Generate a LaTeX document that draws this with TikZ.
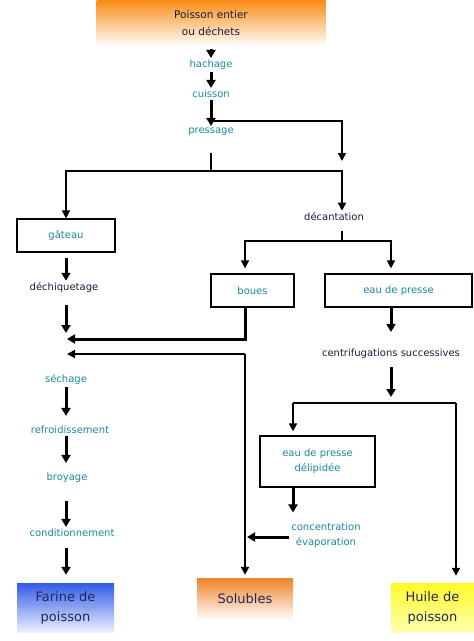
\documentclass[tikz,border=0pt]{standalone}
\usepackage{fontspec}
\setmainfont{DejaVu Sans}
\usepackage{tikz}
\usetikzlibrary{arrows.meta}
\usetikzlibrary{positioning}
\definecolor{stagecol}{RGB}{25,135,160}
\definecolor{inkcol}{RGB}{20,30,60}
\definecolor{endink}{RGB}{30,40,90}
\tikzset{stage/.style = {text = stagecol, font = \fontsize{10}{15}\selectfont, inner sep = 2pt}}
\tikzset{procbox/.style = {stage, draw = black, line width = 1.2pt, align = center}}
\tikzset{endbox/.style = {text = endink, font = \fontsize{13}{20}\selectfont, align = center, inner sep = 0}}
\tikzset{link/.style = {line width = 1.6pt}}
\tikzset{linkarrow/.style = {link, -{Triangle[length = 8pt, width = 8pt]}}}
\tikzset{flow/.style = {line width = 3pt, -{Triangle[length = 8pt, width = 9pt]}}}

\begin{document}
\begin{tikzpicture}[x = 1pt, y = -1pt]
    \useasboundingbox (0, 0) rectangle (474, 641);

    \node [endbox, text = inkcol, font = \fontsize{10.5}{17}\selectfont, minimum width = 229pt, minimum height = 46pt,
      top color = {rgb,255:red,250;green,140;blue,20}, middle color = {rgb,255:red,252;green,165;blue,75}, bottom color = white]
      (src) at (211, 23) {Poisson entier\\ou déchets};
    \node [stage] (hach) at (211, 65) {hachage};
    \node [stage] (cuis) at (211, 94) {cuisson};
    \node [stage] (press) at (211, 132) {pressage};
    \node [stage, text = inkcol] (decant) at (334, 217) {décantation};
    \node [procbox, minimum width = 98pt, minimum height = 33pt] (gateau) at (66, 235.5) {gâteau};
    \node [stage, text = inkcol] (dechiq) at (64, 288) {déchiquetage};
    \node [procbox, minimum width = 83pt, minimum height = 33pt] (boues) at (252.5, 290.5) {boues};
    \node [procbox, minimum width = 147pt, minimum height = 33pt] (eaup) at (398.5, 290.5) {eau de presse};
    \node [stage, text = inkcol] (centrif) at (391, 354) {centrifugations successives};
    \node [procbox, minimum width = 115pt, minimum height = 51pt] (delip) at (317.5, 461.5) {eau de presse\\délipidée};
    \node [stage, align = center] (concent) at (326, 535) {concentration\\évaporation};
    \node [stage] (sech) at (66, 380) {séchage};
    \node [stage] (refroid) at (70, 430) {refroidissement};
    \node [stage] (broy) at (67, 478) {broyage};
    \node [stage] (condit) at (72, 533) {conditionnement};
    \node [endbox, minimum width = 97pt, minimum height = 49pt,
      top color = {rgb,255:red,50;green,90;blue,230}, bottom color = {rgb,255:red,235;green,240;blue,255}]
      (farine) at (65.5, 607.5) {Farine de\\poisson};
    \node [endbox, minimum width = 96pt, minimum height = 42pt,
      top color = {rgb,255:red,240;green,130;blue,40}, bottom color = white]
      (solub) at (245, 599) {Solubles};
    \node [endbox, minimum width = 83pt, minimum height = 49pt,
      top color = {rgb,255:red,255;green,250;blue,40}, bottom color = {rgb,255:red,255;green,255;blue,175}]
      (huile) at (432.5, 607.5) {Huile de\\poisson};

    \coordinate (col) at (66, 0);
    \coordinate (jp) at (211, 121);
    \coordinate (jpend) at (342, 161);
    \coordinate (jd) at (211, 171);
    \coordinate (jdc) at (342, 241);
    \coordinate (js) at (245, 354);
    \coordinate (jc) at (391, 403);
    \coordinate (jl) at (293, 403);
    \coordinate (jr) at (456, 403);
    \coordinate (m0) at (66, 333);
    \coordinate (m1) at (67, 339);
    \coordinate (m2) at (67, 354);
    \coordinate (ev) at (247, 537);

    \draw [flow, shorten <= 3pt] (src) -- (hach);
    \draw [flow] (hach) -- (cuis);
    \draw [flow] (cuis) -- (press);
    \draw [linkarrow] (jp) -| (jpend);
    \draw [link, shorten <= 15pt] (press) -- (jd);
    \draw [linkarrow] (jd) -| (gateau);
    \draw [linkarrow] (jd) -| (jdc |- decant.north);
    \draw [link, shorten <= 8pt] (jdc |- decant.south) -- (jdc);
    \draw [linkarrow, shorten >= 5pt] (jdc) -| (js |- boues.north);
    \draw [linkarrow, shorten >= 5pt] (jdc) -| (jc |- eaup.north);

    \draw [flow, shorten <= 5pt] (gateau.south) -- (gateau.south |- dechiq.north);
    \draw [flow, shorten <= 10pt] (m0 |- dechiq.south) -- (m0);
    \draw [flow] (js |- boues.south) |- (m1);
    \draw [linkarrow] (js) -- (m2);
    \draw [linkarrow, line width = 2pt, shorten >= 3pt] (js) -- (js |- solub.north);

    \draw [flow, shorten >= 15pt] (jc |- eaup.south) -- (jc |- centrif.north);
    \draw [flow, shorten <= 6pt, shorten >= 6pt] (jc |- centrif.south) -- (jc);
    \draw [link] (jl) -- (jr);
    \draw [linkarrow, shorten >= 4pt] (jl) -- (jl |- delip.north);
    \draw [linkarrow, line width = 2pt, shorten >= 7pt] (jr) -- (jr |- huile.north);
    \draw [flow, shorten >= 8pt] (jl |- delip.south) -- (jl |- concent.north);
    \draw [flow] (concent.west |- ev) -- (ev);

    \draw [flow, shorten >= 8pt] (col |- sech.south) -- (col |- refroid.north);
    \draw [flow, shorten >= 8pt] (col |- refroid.south) -- (col |- broy.north);
    \draw [flow, shorten <= 16pt] (col |- broy.south) -- (col |- condit.north);
    \draw [flow, shorten <= 9pt, shorten >= 8pt] (col |- condit.south) -- (col |- farine.north);
  \end{tikzpicture}
\end{document}
